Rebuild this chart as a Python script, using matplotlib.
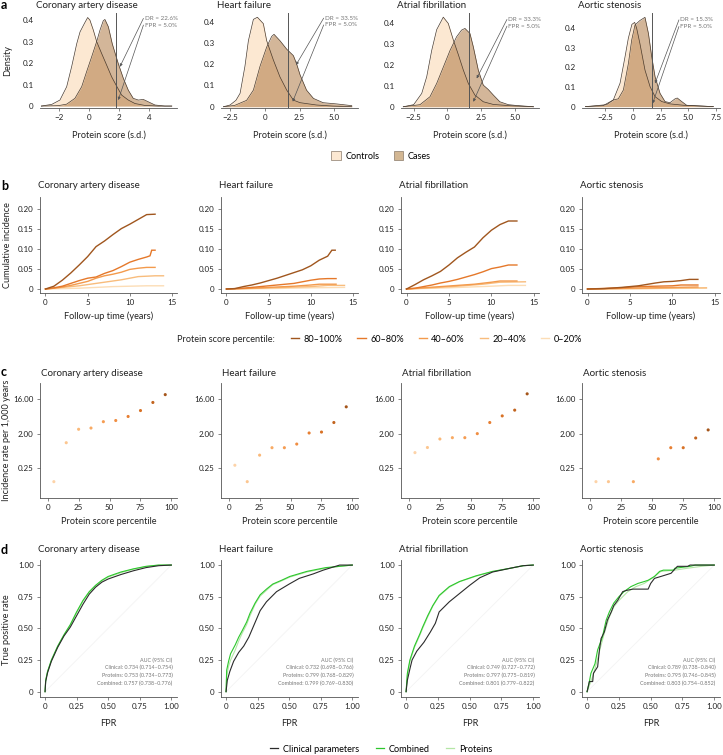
import numpy as np
import matplotlib.pyplot as plt
from matplotlib.lines import Line2D
from matplotlib.patches import Patch

plt.rcParams['font.family'] = ['Lato', 'DejaVu Sans']

W, H = 723, 755

diseases = ['Coronary artery disease', 'Heart failure', 'Atrial fibrillation', 'Aortic stenosis']

# ---------------- a: protein score densities
cad_ctrl_x = [-3.2, -2.5, -1.96, -1.51, -1.18, -0.84, -0.62, -0.33, -0.11, 0.04, 0.27, 0.49, 0.82, 1.16, 1.49, 1.82, 2.16, 2.6, 3.04, 3.7, 4.6, 5.5]
cad_ctrl_y = [0, 0.008, 0.028, 0.09, 0.183, 0.29, 0.345, 0.384, 0.412, 0.40, 0.353, 0.30, 0.245, 0.19, 0.136, 0.093, 0.051, 0.028, 0.012, 0.003, 0, 0]
cad_case_x = [-3.2, -2.07, -1.51, -0.96, -0.51, -0.18, 0.16, 0.49, 0.71, 0.93, 1.04, 1.27, 1.53, 1.93, 2.27, 2.6, 2.93, 3.27, 3.6, 3.93, 4.38, 5.04, 5.5]
cad_case_y = [0, 0.002, 0.009, 0.036, 0.09, 0.16, 0.23, 0.30, 0.353, 0.397, 0.403, 0.369, 0.29, 0.198, 0.129, 0.074, 0.036, 0.028, 0.031, 0.02, 0.005, 0, 0]

hf_ctrl_x = [-3.0, -2.53, -2.1, -1.8, -1.45, -1.2, -0.84, -0.55, -0.12, 0.12, 0.6, 1.08, 1.57, 2.05, 2.53, 3.73, 4.9, 6.27]
hf_ctrl_y = [0, 0.008, 0.03, 0.063, 0.19, 0.31, 0.41, 0.42, 0.39, 0.31, 0.22, 0.14, 0.078, 0.031, 0.019, 0.008, 0.003, 0]
hf_case_x = [-3.0, -2.2, -1.33, -0.84, -0.36, 0.12, 0.48, 0.65, 1.08, 1.57, 2.05, 2.29, 2.53, 3.0, 3.5, 4.2, 5.2, 5.6, 6.27]
hf_case_y = [0, 0.006, 0.03, 0.078, 0.19, 0.28, 0.33, 0.34, 0.31, 0.27, 0.24, 0.2, 0.15, 0.078, 0.039, 0.019, 0.013, 0.01, 0.005]

af_ctrl_x = [-3.27, -2.5, -1.9, -1.53, -1.16, -0.79, -0.3, 0.07, 0.45, 0.82, 1.19, 1.56, 2.05, 2.67, 3.42, 4.65, 6.4]
af_ctrl_y = [0, 0.01, 0.064, 0.144, 0.27, 0.37, 0.43, 0.40, 0.32, 0.25, 0.176, 0.112, 0.056, 0.024, 0.011, 0.005, 0]
af_case_x = [-3.27, -2.03, -1.29, -0.79, -0.3, 0.2, 0.69, 1.06, 1.31, 1.68, 1.93, 2.3, 2.67, 3.04, 3.42, 3.9, 4.53, 5.15, 6.4]
af_case_y = [0, 0.01, 0.048, 0.112, 0.19, 0.27, 0.336, 0.368, 0.376, 0.352, 0.288, 0.176, 0.104, 0.083, 0.056, 0.024, 0.01, 0.006, 0]

as_ctrl_x = [-4.3, -2.7, -1.78, -1.17, -0.72, -0.42, -0.1, 0.15, 0.33, 0.63, 1.08, 1.54, 1.99, 2.59, 3.34, 4.55, 7.26]
as_ctrl_y = [0, 0.005, 0.034, 0.12, 0.255, 0.35, 0.42, 0.43, 0.40, 0.32, 0.187, 0.102, 0.051, 0.026, 0.014, 0.007, 0]
as_case_x = [-4.3, -2.38, -1.78, -1.33, -0.87, -0.42, -0.12, 0.18, 0.63, 1.08, 1.39, 1.69, 1.99, 2.44, 2.89, 3.34, 3.8, 4.0, 4.4, 4.85, 7.26]
as_case_y = [0, 0.01, 0.034, 0.04, 0.085, 0.22, 0.34, 0.417, 0.44, 0.456, 0.374, 0.255, 0.153, 0.068, 0.026, 0.02, 0.04, 0.044, 0.026, 0.007, 0]

thresholds = [1.76, 1.69, 1.6, 1.69]
dr_labels = ['DR = 22.6%', 'DR = 33.5%', 'DR = 33.3%', 'DR = 15.3%']
fpr_label = 'FPR = 5.0%'
dens_xticks = [[-2, 0, 2, 4], [-2.5, 0, 2.5, 5.0], [-2.5, 0, 2.5, 5.0], [-2.5, 0, 2.5, 5.0, 7.5]]
dens_xticklabels = [['−2', '0', '2', '4'], ['−2.5', '0', '2.5', '5.0'], ['−2.5', '0', '2.5', '5.0'],
                    ['−2.5', '0', '2.5', '5.0', '7.5']]
dens_yticks = [0, 0.1, 0.2, 0.3, 0.4]
dens_yticklabels = ['0', '0.1', '0.2', '0.3', '0.4']

# ---------------- b: cumulative incidence by protein score quintile
groups = ['80–100%', '60–80%', '40–60%', '20–40%', '0–20%']
ci_cad = [
    ([0, 1, 2, 3, 4, 5, 6, 7, 8, 9, 10, 11, 12, 13],
     [0, 0.007, 0.022, 0.040, 0.060, 0.081, 0.106, 0.120, 0.136, 0.151, 0.162, 0.174, 0.186, 0.187]),
    ([0, 1, 2, 3, 4, 5, 6, 7, 8, 9, 10, 11, 12, 12.4, 12.6, 13],
     [0, 0.003, 0.007, 0.014, 0.021, 0.027, 0.030, 0.039, 0.046, 0.056, 0.067, 0.074, 0.080, 0.083, 0.097, 0.097]),
    ([0, 1, 2, 3, 4, 5, 6, 7, 8, 9, 10, 11, 12, 13],
     [0, 0.002, 0.005, 0.009, 0.014, 0.019, 0.027, 0.033, 0.037, 0.042, 0.049, 0.052, 0.054, 0.054]),
    ([0, 1, 2, 3, 4, 5, 6, 7, 8, 9, 10, 11, 12, 13, 14],
     [0, 0.002, 0.004, 0.006, 0.008, 0.011, 0.014, 0.017, 0.020, 0.023, 0.027, 0.031, 0.032, 0.033, 0.033]),
    ([0, 2, 4, 6, 8, 10, 12, 14],
     [0, 0.001, 0.002, 0.004, 0.006, 0.007, 0.008, 0.008]),
]
ci_hf = [
    ([0, 1, 2, 3, 4, 5, 6, 7, 8, 9, 10, 11, 12, 12.5, 12.9],
     [0, 0.001, 0.006, 0.010, 0.015, 0.021, 0.027, 0.034, 0.041, 0.048, 0.058, 0.072, 0.082, 0.097, 0.097]),
    ([0, 2, 4, 6, 8, 9, 10, 11, 12, 13],
     [0, 0.002, 0.006, 0.010, 0.014, 0.018, 0.022, 0.025, 0.026, 0.026]),
    ([0, 3, 6, 8, 10, 11, 13],
     [0, 0.002, 0.005, 0.007, 0.010, 0.012, 0.012]),
    ([0, 4, 7, 10, 12, 14],
     [0, 0.002, 0.004, 0.006, 0.009, 0.009]),
    ([0, 5, 10, 14],
     [0, 0.001, 0.003, 0.004]),
]
ci_af = [
    ([0, 1, 2, 3, 4, 5, 6, 7, 8, 9, 10, 11, 12, 13],
     [0, 0.011, 0.023, 0.033, 0.044, 0.060, 0.078, 0.092, 0.105, 0.128, 0.147, 0.161, 0.170, 0.170]),
    ([0, 1, 2, 3, 4, 5, 6, 7, 8, 9, 10, 11, 12, 13],
     [0, 0.002, 0.006, 0.010, 0.015, 0.019, 0.024, 0.030, 0.036, 0.043, 0.051, 0.055, 0.060, 0.060]),
    ([0, 2, 4, 6, 8, 10, 11, 13],
     [0, 0.003, 0.006, 0.009, 0.012, 0.017, 0.020, 0.020]),
    ([0, 3, 6, 9, 11, 14],
     [0, 0.003, 0.007, 0.012, 0.017, 0.018]),
    ([0, 5, 10, 12, 14],
     [0, 0.003, 0.007, 0.009, 0.009]),
]
ci_as = [
    ([0, 2, 4, 6, 8, 9, 10, 11, 12, 13],
     [0, 0.001, 0.004, 0.008, 0.015, 0.018, 0.019, 0.021, 0.024, 0.024]),
    ([0, 4, 6, 8, 10, 11, 13],
     [0, 0.003, 0.006, 0.007, 0.008, 0.010, 0.010]),
    ([0, 5, 10, 13],
     [0, 0.002, 0.004, 0.005]),
    ([0, 5, 10, 14],
     [0, 0.001, 0.002, 0.003]),
    ([0, 7, 14],
     [0, 0.001, 0.002]),
]

# ---------------- c: incidence rate per decile
deciles = [5, 15, 25, 35, 45, 55, 65, 75, 85, 95]
rate_cad = [0.112, 1.16, 2.6, 2.8, 4.1, 4.4, 5.6, 8.0, 13.0, 20.8]
rate_hf = [0.30, 0.112, 0.55, 0.86, 0.86, 1.07, 2.08, 2.2, 3.9, 10.0]
rate_af = [0.64, 0.87, 1.45, 1.57, 1.57, 2.0, 3.9, 5.8, 8.2, 21.8]
rate_as = [0.112, 0.112, np.nan, 0.112, np.nan, 0.44, 0.86, 0.86, 1.54, 2.5]

# ---------------- d: ROC curves
roc_cad = {
    'Clinical parameters': ([0, 0.005, 0.02, 0.05, 0.1, 0.15, 0.2, 0.25, 0.3, 0.35, 0.4, 0.45, 0.5, 0.6, 0.7, 0.8, 0.9, 1.0],
                            [0, 0.08, 0.15, 0.24, 0.35, 0.44, 0.51, 0.60, 0.69, 0.77, 0.825, 0.865, 0.89, 0.925, 0.955, 0.98, 0.995, 1.0]),
    'Combined': ([0, 0.005, 0.02, 0.05, 0.1, 0.15, 0.2, 0.25, 0.3, 0.35, 0.4, 0.45, 0.5, 0.6, 0.7, 0.8, 0.9, 1.0],
                 [0, 0.09, 0.16, 0.25, 0.36, 0.45, 0.53, 0.63, 0.72, 0.79, 0.84, 0.88, 0.91, 0.945, 0.97, 0.99, 1.0, 1.0]),
    'Proteins': ([0, 0.005, 0.02, 0.05, 0.1, 0.15, 0.2, 0.25, 0.3, 0.35, 0.4, 0.45, 0.5, 0.6, 0.7, 0.8, 0.9, 1.0],
                 [0, 0.09, 0.16, 0.245, 0.355, 0.445, 0.525, 0.625, 0.715, 0.785, 0.835, 0.875, 0.905, 0.94, 0.968, 0.988, 1.0, 1.0]),
}
roc_hf = {
    'Clinical parameters': ([0, 0.01, 0.03, 0.06, 0.1, 0.14, 0.18, 0.21, 0.24, 0.27, 0.32, 0.40, 0.5, 0.58, 0.69, 0.77, 0.85, 0.9, 1.0],
                            [0, 0.09, 0.16, 0.24, 0.31, 0.36, 0.43, 0.50, 0.57, 0.64, 0.71, 0.79, 0.85, 0.895, 0.93, 0.96, 0.985, 1.0, 1.0]),
    'Combined': ([0, 0.005, 0.02, 0.036, 0.073, 0.1, 0.127, 0.163, 0.19, 0.23, 0.27, 0.32, 0.37, 0.44, 0.505, 0.64, 0.79, 0.9, 1.0],
                 [0, 0.17, 0.24, 0.30, 0.37, 0.43, 0.48, 0.55, 0.62, 0.70, 0.765, 0.81, 0.85, 0.88, 0.91, 0.95, 0.98, 0.99, 1.0]),
    'Proteins': ([0, 0.005, 0.02, 0.036, 0.073, 0.1, 0.127, 0.163, 0.19, 0.23, 0.27, 0.32, 0.37, 0.44, 0.505, 0.64, 0.79, 0.9, 1.0],
                 [0, 0.12, 0.20, 0.25, 0.33, 0.40, 0.46, 0.53, 0.60, 0.69, 0.755, 0.80, 0.845, 0.875, 0.905, 0.945, 0.975, 0.99, 1.0]),
}
roc_af = {
    'Clinical parameters': ([0, 0.01, 0.03, 0.047, 0.084, 0.14, 0.19, 0.23, 0.26, 0.34, 0.42, 0.5, 0.58, 0.68, 0.82, 0.92, 1.0],
                            [0, 0.09, 0.18, 0.25, 0.32, 0.39, 0.47, 0.54, 0.63, 0.71, 0.775, 0.84, 0.9, 0.945, 0.975, 0.995, 1.0]),
    'Combined': ([0, 0.01, 0.03, 0.066, 0.11, 0.13, 0.17, 0.21, 0.26, 0.34, 0.42, 0.55, 0.68, 0.82, 0.92, 1.0],
                 [0, 0.145, 0.25, 0.36, 0.46, 0.51, 0.60, 0.68, 0.76, 0.83, 0.87, 0.915, 0.95, 0.975, 0.995, 1.0]),
    'Proteins': ([0, 0.01, 0.03, 0.066, 0.11, 0.13, 0.17, 0.21, 0.26, 0.34, 0.42, 0.55, 0.68, 0.82, 0.92, 1.0],
                 [0, 0.13, 0.24, 0.35, 0.45, 0.50, 0.59, 0.675, 0.755, 0.825, 0.868, 0.912, 0.948, 0.975, 0.995, 1.0]),
}
roc_as = {
    'Clinical parameters': ([0, 0.018, 0.044, 0.05, 0.083, 0.097, 0.11, 0.135, 0.16, 0.19, 0.21, 0.24, 0.28, 0.31, 0.36, 0.48, 0.50, 0.53, 0.58, 0.66, 0.71, 0.79, 0.81, 1.0],
                            [0, 0.08, 0.08, 0.145, 0.197, 0.33, 0.42, 0.47, 0.565, 0.63, 0.68, 0.72, 0.79, 0.80, 0.81, 0.81, 0.855, 0.895, 0.91, 0.935, 0.99, 0.99, 1.0, 1.0]),
    'Combined': ([0, 0.018, 0.03, 0.062, 0.083, 0.12, 0.15, 0.175, 0.21, 0.25, 0.29, 0.345, 0.40, 0.45, 0.48, 0.53, 0.57, 0.60, 0.68, 0.69, 0.81, 0.85, 1.0],
                 [0, 0.08, 0.145, 0.22, 0.33, 0.43, 0.565, 0.63, 0.70, 0.75, 0.79, 0.83, 0.855, 0.87, 0.88, 0.91, 0.95, 0.96, 0.96, 0.975, 0.99, 1.0, 1.0]),
    'Proteins': ([0, 0.044, 0.07, 0.10, 0.135, 0.175, 0.21, 0.25, 0.32, 0.385, 0.45, 0.53, 0.58, 0.69, 0.79, 0.9, 1.0],
                 [0, 0.12, 0.21, 0.33, 0.46, 0.59, 0.67, 0.72, 0.79, 0.83, 0.855, 0.91, 0.95, 0.96, 0.975, 0.99, 1.0]),
}
auc_clin = ['0.734 (0.714–0.754)', '0.732 (0.698–0.766)', '0.749 (0.727–0.772)', '0.789 (0.738–0.840)']
auc_prot = ['0.753 (0.734–0.773)', '0.799 (0.768–0.829)', '0.797 (0.775–0.819)', '0.795 (0.746–0.845)']
auc_comb = ['0.757 (0.738–0.776)', '0.799 (0.769–0.830)', '0.801 (0.779–0.822)', '0.803 (0.754–0.852)']

# ---------------- styling
ctrl_col = '#FCE8D2'
case_col = '#A86E35'
edge_col = '#4A3B2E'
quint_cols = ['#A0561E', '#E5782A', '#F39A4C', '#F8BC7C', '#FCDDB6']
decile_cols = ['#FDD3A8', '#FCC690', '#FAB878', '#F8AA64', '#F59C52', '#F08E42', '#E77F32', '#D87226', '#C2641F', '#A5561B']
roc_cols = {'Clinical parameters': '#2B2B2B', 'Combined': '#2DC72D', 'Proteins': '#B4E6A6'}
txt = '#222222'
axc = '#555555'
tick_fs = 5.8
lab_fs = 6.6
title_fs = 7.0

cols_px = [(40, 177), (221, 358), (401, 539), (582, 720)]
rows_px = {'a': (13, 108), 'b': (197, 293), 'c': (383, 498), 'd': (560, 697)}


def rect(lr, tb):
    l, r = lr
    t, b = tb
    return [l / W, 1 - b / H, (r - l) / W, (b - t) / H]


def style(ax, left=True):
    for s in ['top', 'right']:
        ax.spines[s].set_visible(False)
    ax.spines['left'].set_visible(left)
    for s in ['left', 'bottom']:
        ax.spines[s].set_color(axc)
        ax.spines[s].set_linewidth(0.6)
    ax.tick_params(labelsize=tick_fs, colors=axc, labelcolor=txt, length=2, width=0.5, pad=2.5)
    if not left:
        ax.tick_params(axis='y', length=0, pad=4.5)


fig = plt.figure(figsize=(W / 100, H / 100), dpi=100)

# ---------------- row a
dens = [(cad_ctrl_x, cad_ctrl_y, cad_case_x, cad_case_y),
        (hf_ctrl_x, hf_ctrl_y, hf_case_x, hf_case_y),
        (af_ctrl_x, af_ctrl_y, af_case_x, af_case_y),
        (as_ctrl_x, as_ctrl_y, as_case_x, as_case_y)]
dens_xlim = [(-3.29, 5.85), (-3.18, 6.72), (-3.44, 6.81), (-4.61, 7.86)]
dens_ylim = [(-0.009, 0.433), (-0.006, 0.44), (-0.006, 0.45), (-0.007, 0.478)]
txt_pos = [(3.71, 0.408, 0.377), (4.34, 0.416, 0.384), (4.53, 0.419, 0.387), (4.25, 0.443, 0.409)]
arrow_case = [(2.04, 0.183), (2.24, 0.196), (2.18, 0.136), (1.99, 0.119)]
arrow_ctrl = [(1.93, 0.028), (2.0, 0.024), (1.93, 0.024), (1.78, 0.017)]

for i in range(4):
    ax = fig.add_axes(rect(cols_px[i], rows_px['a']))
    cx, cy, kx, ky = dens[i]
    ax.fill_between(cx, cy, color=ctrl_col, lw=0, zorder=1)
    ax.fill_between(kx, ky, color=case_col, alpha=0.5, lw=0, zorder=2)
    ax.plot(cx, cy, color=edge_col, lw=0.5, zorder=3)
    ax.plot(kx, ky, color=edge_col, lw=0.5, zorder=3)
    ax.axvline(thresholds[i], color='#555555', lw=0.7, zorder=4)
    tx, ty1, ty2 = txt_pos[i]
    ax.text(tx, ty1, dr_labels[i], fontsize=4.5, color='#777777', va='center', ha='left')
    ax.text(tx, ty2, fpr_label, fontsize=4.5, color='#777777', va='center', ha='left')
    ax.annotate('', xy=arrow_case[i], xytext=(tx - 0.1, ty1),
                arrowprops=dict(arrowstyle='-|>', lw=0.5, color='#555555', mutation_scale=4, shrinkA=0, shrinkB=0))
    ax.annotate('', xy=arrow_ctrl[i], xytext=(tx - 0.1, ty2),
                arrowprops=dict(arrowstyle='-|>', lw=0.5, color='#555555', mutation_scale=4, shrinkA=0, shrinkB=0))
    ax.set_xlim(dens_xlim[i])
    ax.set_ylim(dens_ylim[i])
    ax.set_xticks(dens_xticks[i])
    ax.set_xticklabels(dens_xticklabels[i])
    ax.set_yticks(dens_yticks)
    ax.set_yticklabels(dens_yticklabels)
    style(ax, left=False)
    fig.text((cols_px[i][0] - 4) / W, 1 - 5 / H, diseases[i], fontsize=title_fs, color=txt, va='center', ha='left')
    fig.text(sum(cols_px[i]) / 2 / W, 1 - 135 / H, 'Protein score (s.d.)', fontsize=lab_fs, color=txt,
             va='center', ha='center')

fig.text(8 / W, 1 - 60 / H, 'Density', rotation=90, fontsize=lab_fs, color=txt, va='center', ha='center')
fig.legend(handles=[Patch(facecolor=ctrl_col, edgecolor='#8a7a6a', lw=0.5, label='Controls'),
                    Patch(facecolor='#D3B793', edgecolor='#8a7a6a', lw=0.5, label='Cases')],
           loc='center', bbox_to_anchor=(381 / W, 1 - 156 / H), ncol=2, frameon=False, fontsize=lab_fs,
           handlelength=1.0, handleheight=1.0, handletextpad=0.5, columnspacing=1.6, borderpad=0)

# ---------------- row b
ci_all = [ci_cad, ci_hf, ci_af, ci_as]
for i in range(4):
    ax = fig.add_axes(rect(cols_px[i], rows_px['b']))
    for g in range(4, -1, -1):
        t, v = ci_all[i][g]
        ax.plot(t, v, color=quint_cols[g], lw=1.0, solid_joinstyle='miter')
    ax.set_xlim(-0.65, 15.6)
    ax.set_ylim(-0.01, 0.23)
    ax.set_xticks([0, 5, 10, 15])
    ax.set_yticks([0, 0.05, 0.10, 0.15, 0.20])
    ax.set_yticklabels(['0', '0.05', '0.10', '0.15', '0.20'])
    style(ax)
    fig.text((cols_px[i][0] - 2) / W, 1 - 186 / H, diseases[i], fontsize=title_fs, color=txt, va='center', ha='left')
    fig.text(sum(cols_px[i]) / 2 / W, 1 - 316 / H, 'Follow-up time (years)', fontsize=lab_fs, color=txt,
             va='center', ha='center')

fig.text(8 / W, 1 - 245 / H, 'Cumulative incidence', rotation=90, fontsize=lab_fs, color=txt, va='center', ha='center')
fig.text(177 / W, 1 - 339 / H, 'Protein score percentile:', fontsize=lab_fs, color=txt, va='center', ha='left')
fig.legend(handles=[Line2D([], [], color=quint_cols[g], lw=1.0, label=groups[g]) for g in range(5)],
           loc='center left', bbox_to_anchor=(291 / W, 1 - 339 / H), ncol=5, frameon=False, fontsize=lab_fs,
           handlelength=0.9, handletextpad=0.5, columnspacing=1.6, borderpad=0, borderaxespad=0)

# ---------------- row c
rates = [rate_cad, rate_hf, rate_af, rate_as]
for i in range(4):
    ax = fig.add_axes(rect(cols_px[i], rows_px['c']))
    ax.scatter(deciles, rates[i], c=decile_cols, s=5, lw=0, zorder=3)
    ax.set_yscale('log', base=2)
    ax.set_ylim(0.042, 41.8)
    ax.set_yticks([0.25, 2, 16])
    ax.set_yticklabels(['0.25', '2.00', '16.00'])
    ax.minorticks_off()
    ax.set_xlim(-6.2, 104.5)
    ax.set_xticks([0, 25, 50, 75, 100])
    style(ax)
    fig.text((cols_px[i][0] + 1) / W, 1 - 373 / H, diseases[i], fontsize=title_fs, color=txt, va='center', ha='left')
    fig.text(sum(cols_px[i]) / 2 / W, 1 - 522 / H, 'Protein score percentile', fontsize=lab_fs, color=txt,
             va='center', ha='center')

fig.text(7 / W, 1 - 440 / H, 'Incidence rate per 1,000 years', rotation=90, fontsize=lab_fs, color=txt,
         va='center', ha='center')

# ---------------- row d
rocs = [roc_cad, roc_hf, roc_af, roc_as]
for i in range(4):
    ax = fig.add_axes(rect(cols_px[i], rows_px['d']))
    ax.plot([0, 1], [0, 1], color='#F3F3F3', lw=0.6, zorder=1)
    for name in ['Proteins', 'Combined', 'Clinical parameters']:
        f, t = rocs[i][name]
        ax.plot(f, t, color=roc_cols[name], lw=0.8, zorder=2)
    ax.set_xlim(-0.04, 1.045)
    ax.set_ylim(-0.042, 1.04)
    ticks = [0, 0.25, 0.5, 0.75, 1.0]
    tl = ['0', '0.25', '0.50', '0.75', '1.00']
    ax.set_xticks(ticks)
    ax.set_xticklabels(tl)
    ax.set_yticks(ticks)
    ax.set_yticklabels(tl)
    style(ax)
    lines = ['AUC (95% CI)', 'Clinical: ' + auc_clin[i], 'Proteins: ' + auc_prot[i], 'Combined: ' + auc_comb[i]]
    for k, s in enumerate(lines):
        ax.text(1.01, 0.25 - k * 0.061, s, fontsize=3.9, color='#777777', ha='right', va='center')
    fig.text((cols_px[i][0] - 2) / W, 1 - 550 / H, diseases[i], fontsize=title_fs, color=txt, va='center', ha='left')
    fig.text(sum(cols_px[i]) / 2 / W, 1 - 723 / H, 'FPR', fontsize=lab_fs, color=txt, va='center', ha='center')

fig.text(7 / W, 1 - 630 / H, 'True positive rate', rotation=90, fontsize=lab_fs, color=txt, va='center', ha='center')
fig.legend(handles=[Line2D([], [], color=roc_cols[n], lw=0.9, label=n) for n in ['Clinical parameters', 'Combined', 'Proteins']],
           loc='center', bbox_to_anchor=(381 / W, 1 - 749 / H), ncol=3, frameon=False, fontsize=lab_fs,
           handlelength=0.9, handletextpad=0.5, columnspacing=1.8, borderpad=0)

# panel letters
for letter, y in [('a', 5), ('b', 186), ('c', 372), ('d', 550)]:
    fig.text(1 / W, 1 - y / H, letter, fontsize=9, fontweight='bold', color='black', va='center', ha='left')

fig.savefig('out.png', dpi=100)
